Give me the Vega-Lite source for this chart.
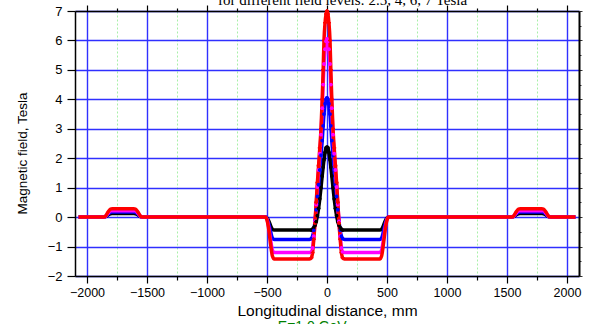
{
  "$schema": "https://vega.github.io/schema/vega-lite/v6.json",
  "width": 504,
  "height": 265,
  "autosize": {"type": "none"},
  "padding": {"left": 75, "top": 11, "right": 17, "bottom": 48},
  "background": "white",
  "config": {"view": {"stroke": null}},
  "data": {
    "values": [
      {"x": -2070, "a": 0, "b": 0, "c": 0, "d": 0},
      {"x": -1865, "a": 0, "b": 0, "c": 0, "d": 0},
      {"x": -1845, "a": 0.02, "b": 0.03, "c": 0.03, "d": 0.04},
      {"x": -1825, "a": 0.07, "b": 0.1, "c": 0.13, "d": 0.17},
      {"x": -1805, "a": 0.11, "b": 0.16, "c": 0.21, "d": 0.27},
      {"x": -1790, "a": 0.12, "b": 0.17, "c": 0.22, "d": 0.28},
      {"x": -1610, "a": 0.12, "b": 0.17, "c": 0.22, "d": 0.28},
      {"x": -1595, "a": 0.11, "b": 0.16, "c": 0.21, "d": 0.27},
      {"x": -1575, "a": 0.07, "b": 0.1, "c": 0.13, "d": 0.17},
      {"x": -1555, "a": 0.02, "b": 0.03, "c": 0.03, "d": 0.04},
      {"x": -1535, "a": 0, "b": 0, "c": 0, "d": 0},
      {"x": -1000, "a": 0, "b": 0, "c": 0, "d": 0},
      {"x": -515, "a": 0, "b": 0, "c": 0, "d": 0},
      {"x": -500, "a": -0.03, "b": -0.05, "c": -0.08, "d": -0.1},
      {"x": -485, "a": -0.13, "b": -0.23, "c": -0.36, "d": -0.43},
      {"x": -470, "a": -0.29, "b": -0.49, "c": -0.78, "d": -0.92},
      {"x": -455, "a": -0.41, "b": -0.71, "c": -1.12, "d": -1.32},
      {"x": -440, "a": -0.44, "b": -0.76, "c": -1.2, "d": -1.42},
      {"x": -145, "a": -0.44, "b": -0.76, "c": -1.2, "d": -1.42},
      {"x": -130, "a": -0.44, "b": -0.73, "c": -1.18, "d": -1.38},
      {"x": -120, "a": -0.41, "b": -0.65, "c": -1.05, "d": -1.2},
      {"x": -110, "a": -0.36, "b": -0.45, "c": -0.65, "d": -0.75},
      {"x": -100, "a": -0.28, "b": -0.15, "c": -0.15, "d": -0.2},
      {"x": -90, "a": -0.15, "b": 0.25, "c": 0.43, "d": 0.5},
      {"x": -80, "a": 0.05, "b": 0.7, "c": 1.02, "d": 1.17},
      {"x": -70, "a": 0.3, "b": 1.1, "c": 1.6, "d": 1.75},
      {"x": -60, "a": 0.62, "b": 1.6, "c": 2.15, "d": 2.35},
      {"x": -50, "a": 1.0, "b": 2.1, "c": 2.8, "d": 3.0},
      {"x": -40, "a": 1.4, "b": 2.6, "c": 3.7, "d": 4.0},
      {"x": -32, "a": 1.7, "b": 3.1, "c": 4.5, "d": 5.0},
      {"x": -25, "a": 1.95, "b": 3.5, "c": 5.2, "d": 6.0},
      {"x": -16, "a": 2.2, "b": 3.85, "c": 5.7, "d": 6.6},
      {"x": -8, "a": 2.35, "b": 4.0, "c": 5.97, "d": 6.9},
      {"x": 0, "a": 2.38, "b": 4.05, "c": 6.05, "d": 7.0},
      {"x": 8, "a": 2.35, "b": 4.0, "c": 5.97, "d": 6.9},
      {"x": 16, "a": 2.2, "b": 3.85, "c": 5.7, "d": 6.6},
      {"x": 25, "a": 1.95, "b": 3.5, "c": 5.2, "d": 6.0},
      {"x": 32, "a": 1.7, "b": 3.1, "c": 4.5, "d": 5.0},
      {"x": 40, "a": 1.4, "b": 2.6, "c": 3.7, "d": 4.0},
      {"x": 50, "a": 1.0, "b": 2.1, "c": 2.8, "d": 3.0},
      {"x": 60, "a": 0.62, "b": 1.6, "c": 2.15, "d": 2.35},
      {"x": 70, "a": 0.3, "b": 1.1, "c": 1.6, "d": 1.75},
      {"x": 80, "a": 0.05, "b": 0.7, "c": 1.02, "d": 1.17},
      {"x": 90, "a": -0.15, "b": 0.25, "c": 0.43, "d": 0.5},
      {"x": 100, "a": -0.28, "b": -0.15, "c": -0.15, "d": -0.2},
      {"x": 110, "a": -0.36, "b": -0.45, "c": -0.65, "d": -0.75},
      {"x": 120, "a": -0.41, "b": -0.65, "c": -1.05, "d": -1.2},
      {"x": 130, "a": -0.44, "b": -0.73, "c": -1.18, "d": -1.38},
      {"x": 145, "a": -0.44, "b": -0.76, "c": -1.2, "d": -1.42},
      {"x": 440, "a": -0.44, "b": -0.76, "c": -1.2, "d": -1.42},
      {"x": 455, "a": -0.41, "b": -0.71, "c": -1.12, "d": -1.32},
      {"x": 470, "a": -0.29, "b": -0.49, "c": -0.78, "d": -0.92},
      {"x": 485, "a": -0.13, "b": -0.23, "c": -0.36, "d": -0.43},
      {"x": 500, "a": -0.03, "b": -0.05, "c": -0.08, "d": -0.1},
      {"x": 515, "a": 0, "b": 0, "c": 0, "d": 0},
      {"x": 1000, "a": 0, "b": 0, "c": 0, "d": 0},
      {"x": 1535, "a": 0, "b": 0, "c": 0, "d": 0},
      {"x": 1555, "a": 0.02, "b": 0.03, "c": 0.03, "d": 0.04},
      {"x": 1575, "a": 0.07, "b": 0.1, "c": 0.13, "d": 0.17},
      {"x": 1595, "a": 0.11, "b": 0.16, "c": 0.21, "d": 0.27},
      {"x": 1610, "a": 0.12, "b": 0.17, "c": 0.22, "d": 0.28},
      {"x": 1790, "a": 0.12, "b": 0.17, "c": 0.22, "d": 0.28},
      {"x": 1805, "a": 0.11, "b": 0.16, "c": 0.21, "d": 0.27},
      {"x": 1825, "a": 0.07, "b": 0.1, "c": 0.13, "d": 0.17},
      {"x": 1845, "a": 0.02, "b": 0.03, "c": 0.03, "d": 0.04},
      {"x": 1865, "a": 0, "b": 0, "c": 0, "d": 0},
      {"x": 2070, "a": 0, "b": 0, "c": 0, "d": 0}
    ]
  },
  "transform": [{"fold": ["a", "b", "c", "d"], "as": ["s", "B"]}],
  "layer": [
    {
      "mark": {"type": "line", "interpolate": "monotone", "strokeWidth": 3.5},
      "encoding": {
        "x": {
          "field": "x", "type": "quantitative",
          "scale": {"domain": [-2100, 2100], "nice": false, "zero": false},
          "axis": {
            "orient": "bottom",
            "values": [-2000, -1750, -1500, -1250, -1000, -750, -500, -250, 0, 250, 500, 750, 1000, 1250, 1500, 1750, 2000],
            "format": "d",
            "labelExpr": "datum.value % 500 === 0 ? datum.label : ''",
            "labelFont": "Liberation Sans", "labelFontSize": 12.5, "labelColor": "black",
            "labelPadding": 3, "labelFlush": false, "labelOverlap": false,
            "tickColor": "black", "tickWidth": 1.2,
            "tickSize": {"condition": {"test": "datum.value % 500 === 0", "value": 7}, "value": 4},
            "domainColor": "black", "domainWidth": 1.5,
            "grid": true,
            "gridColor": {"condition": {"test": "datum.value % 500 === 0", "value": "#3030ff"}, "value": "#a8f0a8"},
            "gridDash": {"condition": {"test": "datum.value % 500 === 0", "value": []}, "value": [2, 2]},
            "gridWidth": {"condition": {"test": "datum.value % 500 === 0", "value": 1.4}, "value": 1},
            "gridOpacity": 1,
            "title": "Longitudinal distance, mm",
            "titleFont": "Liberation Sans", "titleFontSize": 15.5, "titleFontWeight": "normal", "titleColor": "black",
            "titlePadding": 5
          }
        },
        "y": {
          "field": "B", "type": "quantitative",
          "scale": {"domain": [-2, 7], "nice": false, "zero": false},
          "axis": {
            "orient": "left",
            "values": [-2, -1.5, -1, -0.5, 0, 0.5, 1, 1.5, 2, 2.5, 3, 3.5, 4, 4.5, 5, 5.5, 6, 6.5, 7],
            "format": "d",
            "labelExpr": "datum.value % 1 === 0 ? datum.label : ''",
            "labelFont": "Liberation Sans", "labelFontSize": 13, "labelColor": "black",
            "labelPadding": 5, "labelFlush": false, "labelOverlap": false,
            "tickColor": "black", "tickWidth": 1.2,
            "tickSize": {"condition": {"test": "datum.value % 1 === 0", "value": 8}, "value": 4},
            "domainColor": "black", "domainWidth": 1.5,
            "grid": true,
            "gridColor": {"condition": {"test": "datum.value % 1 === 0", "value": "#3030ff"}, "value": "#a8f0a8"},
            "gridDash": {"condition": {"test": "datum.value % 1 === 0", "value": []}, "value": [2, 2]},
            "gridWidth": {"condition": {"test": "datum.value % 1 === 0", "value": 1.4}, "value": 1},
            "gridOpacity": 1,
            "title": "Magnetic field, Tesla",
            "titleFont": "Liberation Sans", "titleFontSize": 13.5, "titleFontWeight": "normal", "titleColor": "black",
            "titlePadding": 18,
            "titleY": 142
          }
        },
        "color": {
          "field": "s", "type": "nominal",
          "scale": {"domain": ["a", "b", "c", "d"], "range": ["black", "#0000ff", "#ff00ff", "#ff0000"]},
          "legend": null
        }
      }
    },
    {
      "transform": [{"filter": "abs(datum.x) <= 130"}],
      "mark": {"type": "point", "filled": true, "opacity": 1},
      "encoding": {
        "x": {"field": "x", "type": "quantitative", "axis": null},
        "y": {"field": "B", "type": "quantitative", "axis": null},
        "color": {"field": "s", "type": "nominal", "legend": null},
        "shape": {
          "field": "s", "type": "nominal",
          "scale": {"domain": ["a", "b", "c", "d"], "range": ["circle", "circle", "circle", "cross"]},
          "legend": null
        },
        "size": {
          "field": "s", "type": "nominal",
          "scale": {"domain": ["a", "b", "c", "d"], "range": [14, 16, 16, 36]},
          "legend": null
        }
      }
    },
    {
      "mark": {"type": "point", "opacity": 0},
      "encoding": {
        "x": {
          "field": "x", "type": "quantitative",
          "axis": {
            "orient": "top",
            "values": [-2000, -1750, -1500, -1250, -1000, -750, -500, -250, 0, 250, 500, 750, 1000, 1250, 1500, 1750, 2000],
            "labels": false, "grid": false, "title": null,
            "tickColor": "black", "tickWidth": 1.2,
            "tickSize": {"condition": {"test": "datum.value % 500 === 0", "value": 6}, "value": 3},
            "domainColor": "black", "domainWidth": 1.5
          }
        },
        "y": {
          "field": "B", "type": "quantitative",
          "axis": {
            "orient": "right",
            "values": [-2, -1.5, -1, -0.5, 0, 0.5, 1, 1.5, 2, 2.5, 3, 3.5, 4, 4.5, 5, 5.5, 6, 6.5, 7],
            "labels": false, "grid": false, "title": null,
            "tickColor": "#333", "tickWidth": 1,
            "tickSize": {"condition": {"test": "datum.value % 1 === 0", "value": 3}, "value": 2},
            "domainColor": "black", "domainWidth": 2
          }
        }
      }
    },
    {
      "data": {"values": [
        {"tx": -410, "ty": -3.5, "label": "E=1.0 GeV"}
      ]},
      "mark": {"type": "text", "align": "left", "baseline": "top", "font": "Liberation Sans", "fontSize": 14, "color": "#008000"},
      "encoding": {
        "x": {"field": "tx", "type": "quantitative", "axis": null},
        "y": {"field": "ty", "type": "quantitative", "axis": null},
        "text": {"field": "label"}
      }
    },
    {
      "data": {"values": [
        {"tx": 130, "ty": 7.2, "label": "for different field levels: 2.5, 4, 6, 7 Tesla"}
      ]},
      "mark": {"type": "text", "align": "center", "baseline": "alphabetic", "font": "Liberation Serif", "fontSize": 15, "color": "black"},
      "encoding": {
        "x": {"field": "tx", "type": "quantitative", "axis": null},
        "y": {"field": "ty", "type": "quantitative", "axis": null},
        "text": {"field": "label"}
      }
    }
  ],
  "resolve": {"axis": {"x": "independent", "y": "independent"}}
}
